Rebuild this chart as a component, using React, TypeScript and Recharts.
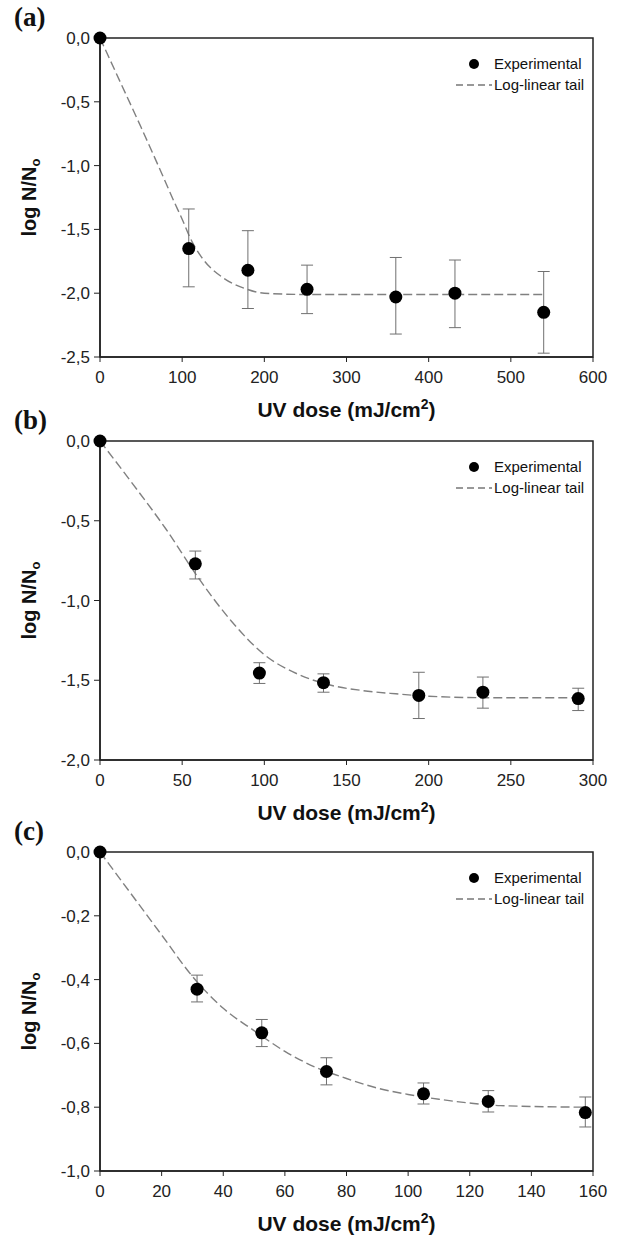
import React from 'react'
import {
    ComposedChart,
    Scatter,
    Line,
    XAxis,
    YAxis,
    ErrorBar,
    ReferenceArea,
    Legend,
} from 'recharts'

// (a)
const DOSE_A = [0, 108, 180, 252, 360, 432, 540]
const LOG_A = [0, -1.65, -1.82, -1.97, -2.03, -2.0, -2.15]
const HI_A = [0, -1.34, -1.51, -1.78, -1.72, -1.74, -1.83]
const LO_A = [0, -1.95, -2.12, -2.16, -2.32, -2.27, -2.47]
const FIT_X_A = [0, 25, 50, 75, 90, 100, 110, 125, 150, 175, 200, 250, 540]
const FIT_Y_A = [0, -0.35, -0.7, -1.06, -1.28, -1.42, -1.57, -1.73, -1.88, -1.96, -2.0, -2.01, -2.01]
const X_TICKS_A = [0, 100, 200, 300, 400, 500, 600]
const Y_TICKS_A = [0, -0.5, -1, -1.5, -2, -2.5]

// (b)
const DOSE_B = [0, 58, 97, 136, 194, 233, 291]
const LOG_B = [0, -0.77, -1.455, -1.515, -1.595, -1.575, -1.615]
const HI_B = [0, -0.69, -1.39, -1.46, -1.45, -1.48, -1.55]
const LO_B = [0, -0.865, -1.52, -1.575, -1.74, -1.675, -1.69]
const FIT_X_B = [0, 20, 40, 60, 80, 100, 120, 140, 160, 180, 200, 240, 291]
const FIT_Y_B = [0, -0.27, -0.55, -0.86, -1.13, -1.34, -1.46, -1.53, -1.565, -1.585, -1.6, -1.61, -1.61]
const X_TICKS_B = [0, 50, 100, 150, 200, 250, 300]
const Y_TICKS_B = [0, -0.5, -1, -1.5, -2]

// (c)
const DOSE_C = [0, 31.5, 52.5, 73.5, 105, 126, 157.5]
const LOG_C = [0, -0.43, -0.567, -0.688, -0.758, -0.782, -0.817]
const HI_C = [0, -0.386, -0.525, -0.645, -0.724, -0.748, -0.768]
const LO_C = [0, -0.47, -0.61, -0.73, -0.79, -0.815, -0.862]
const FIT_X_C = [0, 10, 20, 30, 40, 50, 60, 70, 80, 90, 100, 110, 120, 130, 157.5]
const FIT_Y_C = [0, -0.13, -0.26, -0.39, -0.49, -0.56, -0.625, -0.675, -0.71, -0.74, -0.76, -0.775, -0.787, -0.795, -0.8]
const X_TICKS_C = [0, 20, 40, 60, 80, 100, 120, 140, 160]
const Y_TICKS_C = [0, -0.2, -0.4, -0.6, -0.8, -1]

const LEGEND_NAMES = ['Experimental', 'Log-linear tail']

const SANS = 'Liberation Sans, Arial, sans-serif'
const AXIS = '#222'

const fmt = (v: number) => v.toFixed(1).replace('.', ',')

function XTitle({ viewBox }: any) {
    const cx = viewBox.x + viewBox.width / 2
    return (
        <text x={cx} y={viewBox.y + 60} textAnchor="middle" fontFamily={SANS} fontWeight="bold" fontSize={21} fill="#111">
            UV dose (mJ/cm
            <tspan dy={-8} fontSize={14}>2</tspan>
            <tspan dy={8}>)</tspan>
        </text>
    )
}

function YTitle({ viewBox }: any) {
    const cy = viewBox.y + viewBox.height / 2
    return (
        <text
            x={36}
            y={cy}
            transform={`rotate(-90 36 ${cy})`}
            textAnchor="middle"
            fontFamily={SANS}
            fontWeight="bold"
            fontSize={20}
            fill="#111"
        >
            log N/N
            <tspan dy={4} fontSize={13}>o</tspan>
        </text>
    )
}

function LegendBox() {
    return (
        <svg width={170} height={44} style={{ display: 'block' }}>
            <circle cx={24} cy={10} r={5} fill="#000" />
            <text x={44} y={15} fontFamily={SANS} fontSize={15} fill="#111">
                {LEGEND_NAMES[0]}
            </text>
            <line x1={6} x2={42} y1={31} y2={31} stroke="#777" strokeWidth={1.3} strokeDasharray="7 4" />
            <text x={44} y={36} fontFamily={SANS} fontSize={15} fill="#111">
                {LEGEND_NAMES[1]}
            </text>
        </svg>
    )
}

const Dot = (props: any) => <circle cx={props.cx} cy={props.cy} r={6.5} fill="#000" />

function Panel({
    top,
    tag,
    dose,
    logs,
    hi,
    lo,
    fitX,
    fitY,
    xTicks,
    yTicks,
}: {
    top: number
    tag: string
    dose: number[]
    logs: number[]
    hi: number[]
    lo: number[]
    fitX: number[]
    fitY: number[]
    xTicks: number[]
    yTicks: number[]
}) {
    const points = dose.map((x, i) => ({ x, y: logs[i], err: [logs[i] - lo[i], hi[i] - logs[i]] }))
    const fit = fitX.map((x, i) => ({ x, y: fitY[i] }))
    const xMax = xTicks[xTicks.length - 1]
    const yMin = yTicks[yTicks.length - 1]
    const tickStyle = { fontFamily: SANS, fontSize: 17, fill: '#222' }

    return (
        <div style={{ position: 'absolute', left: 0, top, width: 617, height: 427 }}>
            <div
                style={{
                    position: 'absolute',
                    left: 14,
                    top: 2,
                    fontFamily: 'Liberation Serif, Times New Roman, serif',
                    fontWeight: 'bold',
                    fontSize: 27,
                    color: '#111',
                }}
            >
                {tag}
            </div>
            <ComposedChart width={617} height={427} margin={{ top: 38, right: 24, bottom: 0, left: 0 }}>
                <XAxis
                    type="number"
                    dataKey="x"
                    domain={[0, xMax]}
                    ticks={xTicks}
                    interval={0}
                    height={70}
                    tick={tickStyle}
                    tickSize={5}
                    tickMargin={9}
                    axisLine={{ stroke: AXIS, strokeWidth: 1.5 }}
                    tickLine={{ stroke: AXIS }}
                    label={<XTitle />}
                />
                <YAxis
                    type="number"
                    dataKey="y"
                    domain={[yMin, 0]}
                    ticks={yTicks}
                    interval={0}
                    width={100}
                    tick={tickStyle}
                    tickFormatter={fmt}
                    tickSize={6}
                    tickMargin={4}
                    axisLine={{ stroke: AXIS, strokeWidth: 1.5 }}
                    tickLine={{ stroke: AXIS }}
                    label={<YTitle />}
                />
                <ReferenceArea x1={0} x2={xMax} y1={yMin} y2={0} fill="none" stroke={AXIS} strokeWidth={1.5} ifOverflow="visible" />
                <Line
                    data={fit}
                    dataKey="y"
                    type="monotone"
                    stroke="#808080"
                    strokeWidth={1.4}
                    strokeDasharray="9 4"
                    dot={false}
                    activeDot={false}
                    isAnimationActive={false}
                />
                <Scatter data={points} dataKey="y" shape={Dot} isAnimationActive={false}>
                    <ErrorBar dataKey="err" direction="y" width={6} stroke="#707070" strokeWidth={1} isAnimationActive={false} />
                </Scatter>
                <Legend
                    layout="horizontal"
                    verticalAlign="middle"
                    align="center"
                    content={<LegendBox />}
                    wrapperStyle={{ left: 450, top: 54, width: 170, height: 44 }}
                />
            </ComposedChart>
        </div>
    )
}

export default function App() {
    return (
        <div style={{ position: 'absolute', left: 0, top: 0, width: 617, height: 1236, background: '#fff' }}>
            <Panel top={0} tag="(a)" dose={DOSE_A} logs={LOG_A} hi={HI_A} lo={LO_A} fitX={FIT_X_A} fitY={FIT_Y_A} xTicks={X_TICKS_A} yTicks={Y_TICKS_A} />
            <Panel top={403} tag="(b)" dose={DOSE_B} logs={LOG_B} hi={HI_B} lo={LO_B} fitX={FIT_X_B} fitY={FIT_Y_B} xTicks={X_TICKS_B} yTicks={Y_TICKS_B} />
            <Panel top={814} tag="(c)" dose={DOSE_C} logs={LOG_C} hi={HI_C} lo={LO_C} fitX={FIT_X_C} fitY={FIT_Y_C} xTicks={X_TICKS_C} yTicks={Y_TICKS_C} />
        </div>
    )
}
